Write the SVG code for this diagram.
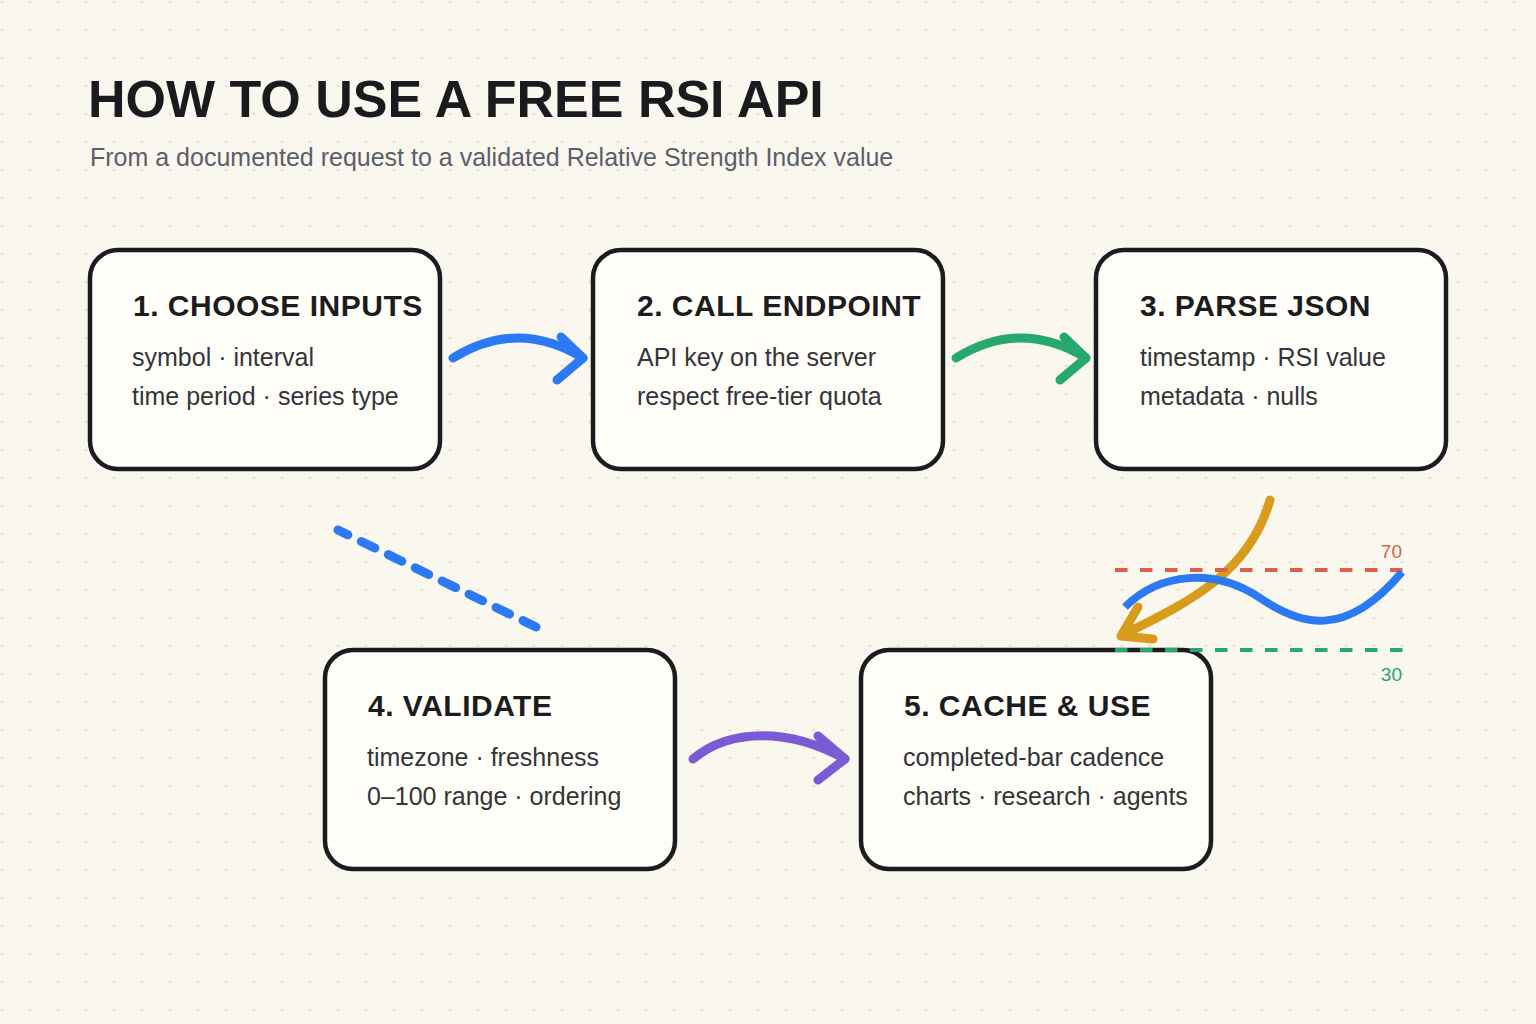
<svg xmlns="http://www.w3.org/2000/svg" width="1536" height="1024" viewBox="0 0 1536 1024">
  <defs>
    <pattern id="dots" x="0" y="0" width="28" height="28" patternUnits="userSpaceOnUse">
      <circle cx="2" cy="2" r="1.3" fill="#e2ded2"/>
    </pattern>
  </defs>
  <style>
    .box { fill: #fffdf7; stroke: #1b1c1f; stroke-width: 4.5; }
    .title { font-family: "Liberation Sans", Arial, sans-serif; font-weight: 700; font-size: 52px; fill: #1a1b1f; }
    .sub { font-family: "Liberation Sans", Arial, sans-serif; font-size: 25px; fill: #5a5f69; }
    .head { font-family: "Liberation Sans", Arial, sans-serif; font-weight: 700; font-size: 30px; fill: #1b1c20; letter-spacing: 0.5px; }
    .body { font-family: "Liberation Sans", Arial, sans-serif; font-size: 25px; fill: #33353b; }
    .arrow { fill: none; stroke-width: 9; stroke-linecap: round; stroke-linejoin: round; }
    .lvl { fill: none; stroke-width: 4; stroke-dasharray: 12.5 12.5; }
    .lbl { font-family: "Liberation Sans", Arial, sans-serif; font-size: 19px; text-anchor: end; }
  </style>

  <rect width="1536" height="1024" fill="#faf7ee"/>
  <rect width="1536" height="1024" fill="url(#dots)"/>

  <text class="title" x="88" y="117">HOW TO USE A FREE RSI API</text>
  <text class="sub" x="90" y="166">From a documented request to a validated Relative Strength Index value</text>

  <g id="connectors">
    <g id="c1-2" stroke="#2b7af3" class="arrow">
      <path d="M453,358 Q518,318 583,358"/>
      <path d="M561,337 L583,358 L557,380"/>
    </g>
    <g id="c2-3" stroke="#27a86d" class="arrow">
      <path d="M956,358 Q1021,318 1086,358"/>
      <path d="M1064,337 L1086,358 L1060,380"/>
    </g>
    <g id="c3-5" stroke="#d89b1b" class="arrow">
      <path d="M1270,500 C1250,570 1195,600 1122,635"/>
      <path d="M1138,607 L1121,636 L1153,639"/>
    </g>
    <g id="c4-5" stroke="#7a5ad5" class="arrow">
      <path d="M693,759 C730,728 790,728 845,759"/>
      <path d="M818,736 L845,759 L818,780"/>
    </g>
    <path id="c1-4" class="arrow" stroke="#2b7af3" stroke-dasharray="15 15" stroke-dashoffset="4" d="M338,530 L536,627"/>
  </g>

  <g id="node1">
    <rect class="box" x="90" y="250" width="350" height="219" rx="28"/>
    <text class="head" x="133" y="316">1. CHOOSE INPUTS</text>
    <text class="body" x="132" y="366">symbol · interval</text>
    <text class="body" x="132" y="405">time period · series type</text>
  </g>
  <g id="node2">
    <rect class="box" x="593" y="250" width="350" height="219" rx="28"/>
    <text class="head" x="637" y="316">2. CALL ENDPOINT</text>
    <text class="body" x="637" y="366">API key on the server</text>
    <text class="body" x="637" y="405">respect free-tier quota</text>
  </g>
  <g id="node3">
    <rect class="box" x="1096" y="250" width="350" height="219" rx="28"/>
    <text class="head" x="1140" y="316">3. PARSE JSON</text>
    <text class="body" x="1140" y="366">timestamp · RSI value</text>
    <text class="body" x="1140" y="405">metadata · nulls</text>
  </g>
  <g id="node4">
    <rect class="box" x="325" y="650" width="350" height="219" rx="28"/>
    <text class="head" x="368" y="716">4. VALIDATE</text>
    <text class="body" x="367" y="766">timezone · freshness</text>
    <text class="body" x="367" y="805">0–100 range · ordering</text>
  </g>
  <g id="node5">
    <rect class="box" x="861" y="650" width="350" height="219" rx="28"/>
    <text class="head" x="904" y="716">5. CACHE &amp; USE</text>
    <text class="body" x="903" y="766">completed-bar cadence</text>
    <text class="body" x="903" y="805">charts · research · agents</text>
  </g>

  <g id="rsi-chart">
    <line class="lvl" stroke="#dc5f49" x1="1115" y1="570" x2="1403" y2="570"/>
    <line class="lvl" stroke="#27a86d" x1="1115" y1="650" x2="1403" y2="650"/>
    <path fill="none" stroke="#2b7af3" stroke-width="8" d="M1125,607 C1160,572 1215,568 1260,598 C1300,625 1345,640 1402,572"/>
    <text class="lbl" x="1402" y="558" fill="#dc5f49">70</text>
    <text class="lbl" x="1402" y="681" fill="#27a86d">30</text>
  </g>
</svg>
